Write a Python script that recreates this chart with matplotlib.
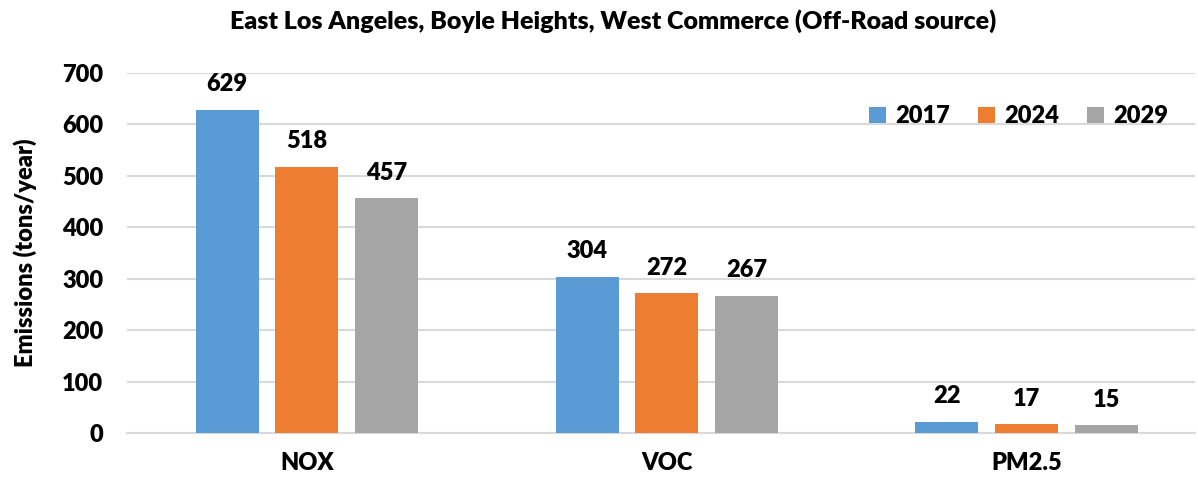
import numpy as np
import matplotlib.pyplot as plt

pollutants = ["NOX", "VOC", "PM2.5"]
years = ["2017", "2024", "2029"]
emis_2017 = [629, 304, 22]
emis_2024 = [518, 272, 17]
emis_2029 = [457, 267, 15]
colors = ["#5B9BD5", "#ED7D31", "#A5A5A5"]

plt.rcParams['font.family'] = ['Lato', 'DejaVu Sans']
plt.rcParams['font.weight'] = 'heavy'
fw = 'heavy'
fs = 17

fig = plt.figure(figsize=(11.98, 4.79), dpi=100)
ax = fig.add_axes([0.106, 0.096, 0.8915, 0.7516])

x = np.arange(len(pollutants))
w = 0.175
step = 0.222
for i, (vals, yr) in enumerate(zip([emis_2017, emis_2024, emis_2029], years)):
    bars = ax.bar(x + (i - 1) * step, vals, w, color=colors[i], label=yr, zorder=3)
    for b, v in zip(bars, vals):
        ax.text(b.get_x() + b.get_width() / 2, v + 28, str(v), ha='center', va='bottom',
                fontsize=fs, fontweight=fw)

ax.set_xlim(-0.5, 2.467)
ax.set_ylim(0, 700)
ax.set_yticks(range(0, 701, 100))
ax.set_xticks(x)
ax.set_xticklabels(pollutants)
ax.tick_params(axis='both', length=0, labelsize=fs)
ax.tick_params(axis='x', pad=14)
ax.tick_params(axis='y', pad=17)
for lab in ax.get_xticklabels() + ax.get_yticklabels():
    lab.set_fontweight(fw)
ax.grid(axis='y', color='#D9D9D9', linewidth=1.5, zorder=0)
for s in ['top', 'right', 'left']:
    ax.spines[s].set_visible(False)
ax.spines['bottom'].set_color('#D9D9D9')
ax.spines['bottom'].set_linewidth(1.5)

ax.set_ylabel("Emissions (tons/year)", fontsize=fs, fontweight=fw, labelpad=18)

ax.legend(loc='upper right', bbox_to_anchor=(0.995, 0.97), ncol=3, frameon=False,
          handlelength=0.7, handleheight=0.7, columnspacing=1.2,
          handletextpad=0.4, prop={'weight': fw, 'size': fs})

fig.text(0.512, 0.955, "East Los Angeles, Boyle Heights, West Commerce (Off-Road source)",
         ha='center', va='center', fontsize=18, fontweight=fw)

fig.savefig("out.png", dpi=100)
